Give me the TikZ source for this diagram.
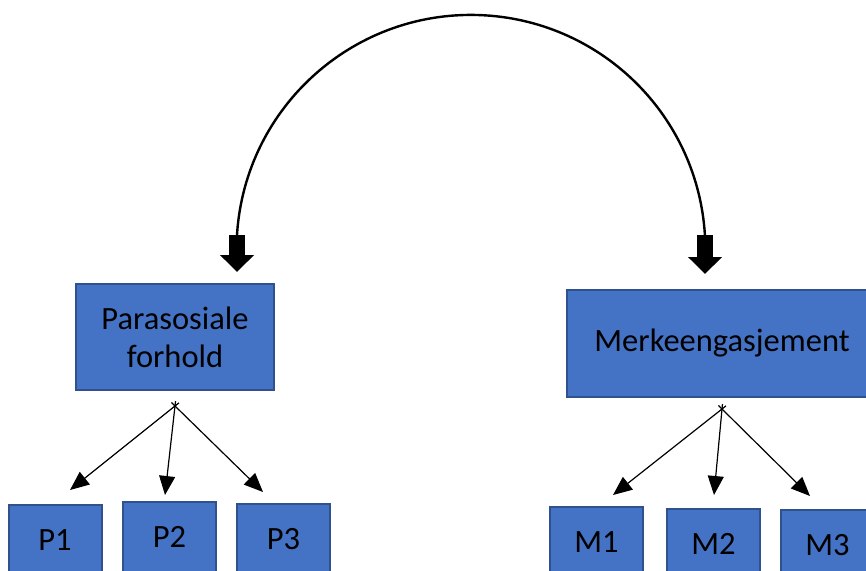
\documentclass[tikz,border=0pt]{standalone}
\usepackage{fontspec}
\setmainfont{Carlito}
\usetikzlibrary{arrows.meta,positioning}
\definecolor{boxblue}{HTML}{4472C4}
\definecolor{boxedge}{HTML}{2F528F}

\begin{document}
\begin{tikzpicture}[x=1pt, y=-1pt, font=\fontsize{32.5}{38}\selectfont, box/.style={draw=boxedge, line width=2pt, fill=boxblue, align=center, inner sep=0pt}, item/.style={box, minimum width=93pt, minimum height=70pt}, curve/.style={line width=2.4pt}, blk/.style={line width=16pt, -{Triangle[length=17pt,width=33pt]}}, arr/.style={line width=1.2pt, shorten <=-5pt, -{Triangle[length=19pt,width=16pt]}}]
\clip (0,0) rectangle (866,570);
\node[box, minimum width=198pt, minimum height=106pt] (par) at (175,337) {Parasosiale\\forhold};
\node[box, minimum width=310pt, minimum height=107pt] (merk) at (722,343.5) {Merkeengasjement};
\node[item] (p1) at (55,540) {P1};
\node[item] (p2) at (169.5,537) {P2};
\node[item] (p3) at (283.5,539) {P3};
\node[item] (m1) at (596.5,542) {M1};
\node[item] (m2) at (713.5,544) {M2};
\node[item] (m3) at (827.5,545) {M3};
\coordinate (larc) at (237,235);
\coordinate (rarc) at (705,235);
\coordinate (pfork) at ([yshift=-15pt]par.south);
\coordinate (mfork) at ([yshift=-11pt]merk.south);
% link between the two concepts
\draw[curve] (larc) arc[start angle=-176.5, end angle=-3.5, radius=234.4];
\draw[blk, shorten >=11pt] (larc) -- (larc |- par.north);
\draw[blk, shorten >=15pt] (rarc) -- (rarc |- merk.north);
% indicators
\draw[arr] (pfork) -- ([shift={(15,-14)}]p1.north);
\draw[arr] (pfork) -- ([shift={(-4.5,-6)}]p2.north);
\draw[arr] (pfork) -- ([shift={(-20.5,-11)}]p3.north);
\draw[arr] (mfork) -- ([shift={(16.5,-11)}]m1.north);
\draw[arr] (mfork) -- ([shift={(0.5,-13)}]m2.north);
\draw[arr] (mfork) -- ([shift={(-17.5,-13)}]m3.north);
\end{tikzpicture}
\end{document}
